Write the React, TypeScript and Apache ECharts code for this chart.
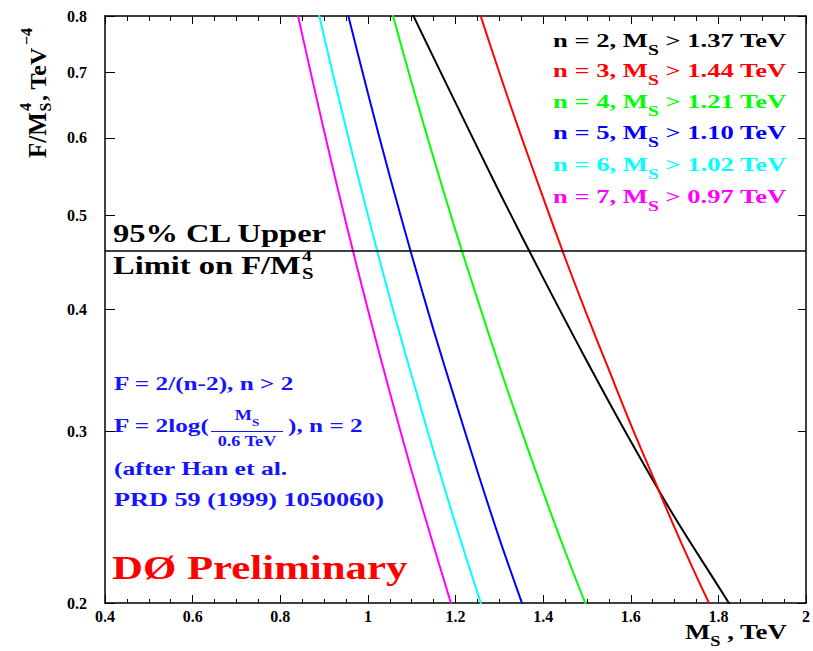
import { useEffect, useRef } from 'react';
import * as echarts from 'echarts';

// M_S (TeV) sampled along each curve, with the matching F/M_S^4 (TeV^-4)
const massN2 = [1.1, 1.15, 1.2, 1.3, 1.4, 1.5, 1.6, 1.7, 1.8, 1.83];
const boundN2 = [0.807, 0.725, 0.652, 0.528, 0.431, 0.354, 0.293, 0.245, 0.208, 0.198];

const massN3 = [1.25, 1.3, 1.35, 1.4, 1.45, 1.5, 1.55, 1.6, 1.65, 1.7, 1.75, 1.8];
const boundN3 = [0.819, 0.7, 0.602, 0.521, 0.452, 0.395, 0.347, 0.305, 0.27, 0.239, 0.213, 0.191];

const massN4 = [1.05, 1.1, 1.15, 1.2, 1.25, 1.3, 1.35, 1.4, 1.45, 1.5];
const boundN4 = [0.823, 0.683, 0.572, 0.482, 0.41, 0.35, 0.301, 0.26, 0.226, 0.198];

const massN5 = [0.95, 1.0, 1.05, 1.1, 1.15, 1.2, 1.25, 1.3, 1.35, 1.4];
const boundN5 = [0.818, 0.667, 0.548, 0.455, 0.381, 0.322, 0.273, 0.233, 0.201, 0.174];

const massN6 = [0.88, 0.9, 0.95, 1.0, 1.05, 1.1, 1.15, 1.2, 1.25, 1.3];
const boundN6 = [0.834, 0.762, 0.614, 0.5, 0.411, 0.342, 0.286, 0.241, 0.205, 0.175];

const massN7 = [0.83, 0.85, 0.9, 0.95, 1.0, 1.05, 1.1, 1.15, 1.2];
const boundN7 = [0.843, 0.766, 0.61, 0.491, 0.4, 0.329, 0.273, 0.229, 0.193];

// number of extra dimensions and the resulting lower limits on M_S (TeV)
const extraDims = [2, 3, 4, 5, 6, 7];
const massLimits = ['1.37', '1.44', '1.21', '1.10', '1.02', '0.97'];
const curveColors = ['#000000', '#ff0000', '#00ff00', '#0000ff', '#00ffff', '#ff00ff'];

// 95% CL upper limit on F/M_S^4
const clUpperLimit = 0.46;

// axes
const xMin = 0.4;
const xMax = 2;
const xStep = 0.2;
const yMin = 0.2;
const yMax = 0.8;
const yTickValues = [0.2, 0.3, 0.4, 0.5, 0.6, 0.7, 0.8];

const SERIF = '"Liberation Serif", "Times New Roman", serif';
const BLUE = '#1414ff';

const curveMass = [massN2, massN3, massN4, massN5, massN6, massN7];
const curveBound = [boundN2, boundN3, boundN4, boundN5, boundN6, boundN7];

function label(
  x: number,
  y: number,
  text: string,
  size: number,
  color: string,
  scaleX = 1,
  extraStyle: Record<string, unknown> = {}
) {
  return {
    type: 'text',
    x,
    y,
    scaleX,
    silent: true,
    style: {
      text,
      x: 0,
      y: 0,
      fill: color,
      font: `bold ${size}px ${SERIF}`,
      align: 'left',
      textAlign: 'left',
      verticalAlign: 'middle',
      textVerticalAlign: 'middle',
      ...extraStyle,
    },
  };
}

// text with an "S" subscript after the first part
function subscriptLabel(
  x: number,
  y: number,
  before: string,
  after: string,
  size: number,
  subSize: number,
  color: string,
  scaleX: number,
  align = 'left'
) {
  const mainH = Math.round(size * 1.25);
  const drop = Math.round(size * 0.62);
  return label(x, y, `{m|${before}}{s|S}{m|${after}}`, size, color, scaleX, {
    align,
    textAlign: align,
    rich: {
      m: {
        fontFamily: SERIF,
        fontWeight: 'bold',
        fontSize: size,
        lineHeight: mainH,
        verticalAlign: 'top',
        fill: color,
      },
      s: {
        fontFamily: SERIF,
        fontWeight: 'bold',
        fontSize: subSize,
        lineHeight: subSize,
        padding: [drop, 0, 0, 0],
        verticalAlign: 'top',
        fill: color,
      },
    },
  });
}

const legendRowY = [43, 73, 104, 135, 167, 199];

function buildGraphics() {
  const els: any[] = [];

  // limits per number of extra dimensions
  extraDims.forEach((n, i) => {
    els.push(
      subscriptLabel(553, legendRowY[i], `n = ${n}, M`, ` > ${massLimits[i]} TeV`, 19, 14, curveColors[i], 1.4)
    );
  });

  // label of the horizontal limit line
  els.push(label(113, 233, '95% CL Upper', 25, '#000', 1.3));
  els.push(label(113, 265, 'Limit on F/M', 25, '#000', 1.3));
  els.push(label(302, 256, '4', 15, '#000', 1.3));
  els.push(label(302, 273, 'S', 16, '#000', 1.3));

  // formulas for F
  els.push(label(114, 384, 'F = 2/(n-2), n > 2', 19, BLUE, 1.33));
  els.push(label(114, 426, 'F = 2log(', 19, BLUE, 1.33));
  els.push(subscriptLabel(247, 418, 'M', '', 14, 10, BLUE, 1.3, 'center'));
  els.push({
    type: 'line',
    silent: true,
    shape: { x1: 211, y1: 431.5, x2: 283, y2: 431.5 },
    style: { stroke: BLUE, lineWidth: 1 },
  });
  els.push({
    type: 'text',
    x: 247,
    y: 442,
    scaleX: 1.3,
    silent: true,
    style: {
      text: '0.6 TeV',
      x: 0,
      y: 0,
      align: 'center',
      textAlign: 'center',
      verticalAlign: 'middle',
      textVerticalAlign: 'middle',
      font: `bold 14px ${SERIF}`,
      fill: BLUE,
    },
  });
  els.push(label(288, 426, '), n = 2', 19, BLUE, 1.33));
  els.push(label(114, 469, '(after Han et al.', 19, BLUE, 1.35));
  els.push(label(114, 500, 'PRD 59 (1999) 1050060)', 19, BLUE, 1.38));

  els.push(label(112, 568, 'DØ Preliminary', 34, '#ff0000', 1.26));

  // x-axis title
  els.push(subscriptLabel(685, 634, 'M', ' , TeV', 22, 15, '#000', 1.22));

  // y-axis title, written bottom to top
  els.push({
    type: 'group',
    x: 37.5,
    y: 158,
    rotation: Math.PI / 2,
    silent: true,
    children: [
      label(0, 0, 'F/M', 25, '#000'),
      label(46.5, 8, 'S', 16, '#000'),
      label(47, -12, '4', 16, '#000'),
      label(57, 0, ', TeV', 24, '#000'),
      label(113, -11, '\u22124', 16, '#000'),
    ],
  });

  return els;
}

export default function App() {
  const ref = useRef<HTMLDivElement>(null);

  useEffect(() => {
    if (!ref.current) return;
    const chart = echarts.init(ref.current, null, { renderer: 'svg' });

    const axisLineStyle = { color: '#000', width: 1.5 };
    const tickFont = { fontFamily: SERIF, fontWeight: 'bold' as const, fontSize: 16, color: '#000' };
    const logTicks = yTickValues.map((v) => Math.log10(v));

    const series: any[] = curveMass.map((mass, i) => ({
      name: `n = ${extraDims[i]}`,
      type: 'line',
      xAxisIndex: 0,
      yAxisIndex: 0,
      data: mass.map((m, j) => [m, curveBound[i][j]]),
      showSymbol: false,
      symbol: 'none',
      smooth: 0.35,
      clip: true,
      silent: true,
      lineStyle: { color: curveColors[i], width: 2 },
      z: 3,
    }));

    series[0].markLine = {
      silent: true,
      symbol: ['none', 'none'],
      label: { show: false },
      lineStyle: { color: '#000', width: 1.5, type: 'solid' },
      data: [{ yAxis: clUpperLimit }],
    };

    chart.setOption({
      animation: false,
      backgroundColor: '#ffffff',
      textStyle: { fontFamily: SERIF },
      grid: { left: 105, right: 5, top: 16, bottom: 48, containLabel: false },
      xAxis: [
        {
          type: 'value',
          position: 'bottom',
          min: xMin,
          max: xMax,
          interval: xStep,
          axisLine: { show: true, onZero: false, lineStyle: axisLineStyle },
          axisTick: { show: true, inside: true, length: 8, lineStyle: { color: '#000', width: 1 } },
          minorTick: { show: true, splitNumber: 4, length: 4, lineStyle: { color: '#000', width: 1 } },
          axisLabel: {
            ...tickFont,
            margin: 5,
            formatter: (v: number) => String(Number(v.toFixed(1))),
          },
          splitLine: { show: false },
        },
        {
          type: 'value',
          position: 'top',
          min: xMin,
          max: xMax,
          interval: xStep,
          axisLine: { show: true, onZero: false, lineStyle: axisLineStyle },
          axisTick: { show: true, inside: true, length: 8, lineStyle: { color: '#000', width: 1 } },
          minorTick: { show: true, splitNumber: 4, length: 5, lineStyle: { color: '#000', width: 1 } },
          axisLabel: { show: false },
          splitLine: { show: false },
        },
      ],
      yAxis: [
        {
          type: 'log',
          logBase: 10,
          min: yMin,
          max: yMax,
          axisLine: { show: false },
          axisTick: { show: false },
          axisLabel: { show: false },
          splitLine: { show: false },
          minorTick: { show: false },
          minorSplitLine: { show: false },
        },
        {
          type: 'value',
          position: 'left',
          min: Math.log10(yMin),
          max: Math.log10(yMax),
          axisLine: { show: true, onZero: false, lineStyle: axisLineStyle },
          axisTick: {
            show: true,
            inside: true,
            length: 10,
            customValues: logTicks,
            lineStyle: { color: '#000', width: 1 },
          },
          axisLabel: {
            ...tickFont,
            margin: 18,
            customValues: logTicks,
            formatter: (v: number) => Math.pow(10, v).toFixed(1),
          },
          splitLine: { show: false },
        },
        {
          type: 'value',
          position: 'right',
          min: Math.log10(yMin),
          max: Math.log10(yMax),
          axisLine: { show: true, onZero: false, lineStyle: axisLineStyle },
          axisTick: {
            show: true,
            inside: true,
            length: 8,
            customValues: logTicks,
            lineStyle: { color: '#000', width: 1 },
          },
          axisLabel: { show: false },
          splitLine: { show: false },
        },
      ],
      series,
      graphic: buildGraphics(),
    });

    return () => chart.dispose();
  }, []);

  return (
    <div
      ref={ref}
      style={{ position: 'absolute', left: 0, top: 0, width: 813, height: 651, background: '#fff' }}
    />
  );
}
